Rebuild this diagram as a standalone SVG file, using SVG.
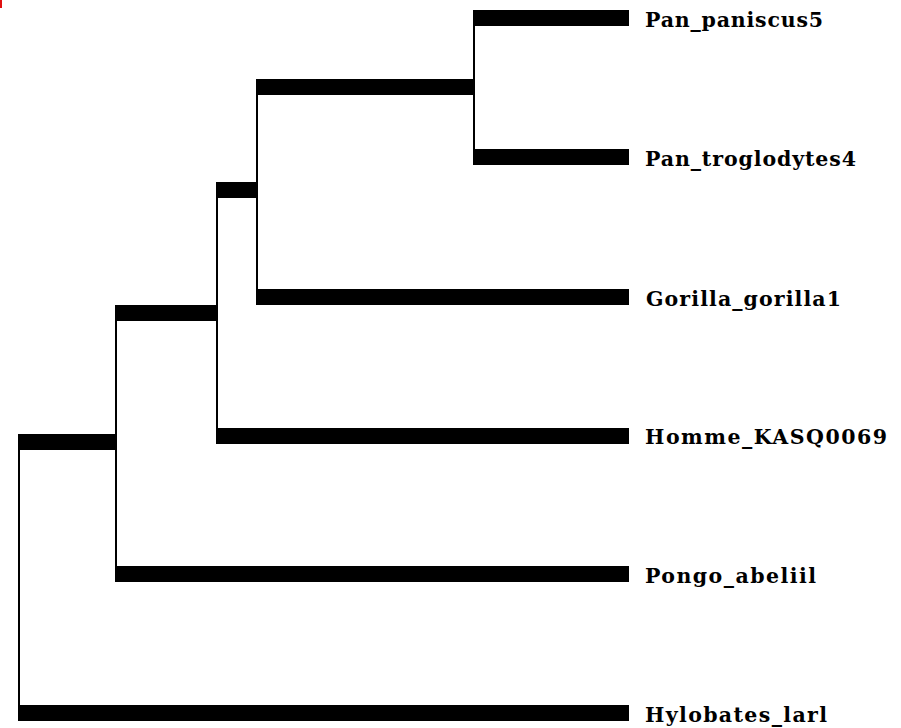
<svg xmlns="http://www.w3.org/2000/svg" width="901" height="728" viewBox="0 0 901 728">
  <style>
    .branch { fill: #000; }
    .stem { fill: #000; }
    .label { font-family: "DejaVu Serif", "Liberation Serif", serif; font-weight: bold; font-size: 20.5px; fill: #000; }
  </style>
  <rect x="0" y="0" width="901" height="728" fill="#fff"/>
  <rect x="0" y="0" width="2" height="8" fill="#e01010"/>

  <!-- vertical connectors joining sister branches -->
  <g id="connectors">
    <rect class="stem" x="473" y="10" width="2" height="155"/>
    <rect class="stem" x="256" y="79" width="2" height="226"/>
    <rect class="stem" x="216" y="182" width="2" height="262"/>
    <rect class="stem" x="115" y="305" width="2" height="277"/>
    <rect class="stem" x="18" y="434" width="2" height="287"/>
  </g>

  <!-- internal nodes -->
  <g id="node-pan"><rect class="branch" x="256" y="79" width="219" height="16"/></g>
  <g id="node-african-apes"><rect class="branch" x="216" y="182" width="42" height="16"/></g>
  <g id="node-hominines"><rect class="branch" x="115" y="305" width="103" height="16"/></g>
  <g id="node-root"><rect class="branch" x="18" y="434" width="99" height="16"/></g>

  <!-- leaves -->
  <g id="leaf-pan-paniscus">
    <rect class="branch" x="473" y="10" width="156" height="16"/>
    <text class="label" x="645" y="27" textLength="178" lengthAdjust="spacing">Pan_paniscus5</text>
  </g>
  <g id="leaf-pan-troglodytes">
    <rect class="branch" x="473" y="149" width="156" height="16"/>
    <text class="label" x="645" y="166" textLength="211" lengthAdjust="spacing">Pan_troglodytes4</text>
  </g>
  <g id="leaf-gorilla">
    <rect class="branch" x="256" y="289" width="373" height="16"/>
    <text class="label" x="646" y="306" textLength="195" lengthAdjust="spacing">Gorilla_gorilla1</text>
  </g>
  <g id="leaf-homme">
    <rect class="branch" x="216" y="428" width="413" height="16"/>
    <text class="label" x="645" y="444" textLength="242" lengthAdjust="spacing">Homme_KASQ0069</text>
  </g>
  <g id="leaf-pongo">
    <rect class="branch" x="115" y="566" width="514" height="16"/>
    <text class="label" x="645" y="583" textLength="171" lengthAdjust="spacing">Pongo_abeliil</text>
  </g>
  <g id="leaf-hylobates">
    <rect class="branch" x="18" y="705" width="611" height="16"/>
    <text class="label" x="645" y="722" textLength="182" lengthAdjust="spacing">Hylobates_larl</text>
  </g>
</svg>
